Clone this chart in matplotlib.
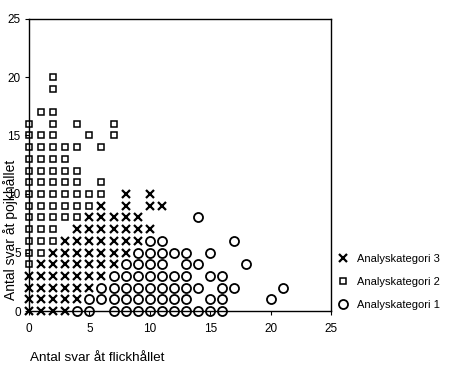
import matplotlib
matplotlib.use("Agg")
import matplotlib.pyplot as plt
from matplotlib.lines import Line2D

plt.rcParams['font.family'] = ['Liberation Sans', 'DejaVu Sans']

# Analyskategori 1 (circles)
cat1_x = [4, 5, 7, 8, 9, 10, 11, 12, 13, 14, 15, 16,
          5, 6, 7, 8, 9, 10, 11, 12, 13, 15, 16, 20,
          6, 7, 8, 9, 10, 11, 12, 13, 14, 16, 17, 21,
          7, 8, 9, 10, 11, 12, 13, 15, 16,
          8, 9, 10, 11, 13, 14, 18,
          9, 10, 11, 12, 13, 15,
          10, 11, 17,
          14]
cat1_y = [0, 0, 0, 0, 0, 0, 0, 0, 0, 0, 0, 0,
          1, 1, 1, 1, 1, 1, 1, 1, 1, 1, 1, 1,
          2, 2, 2, 2, 2, 2, 2, 2, 2, 2, 2, 2,
          3, 3, 3, 3, 3, 3, 3, 3, 3,
          4, 4, 4, 4, 4, 4, 4,
          5, 5, 5, 5, 5, 5,
          6, 6, 6,
          8]

# Analyskategori 2 (squares)
cat2_x = [0,
          0, 1,
          0, 1, 2,
          0, 1, 2,
          0, 1, 2, 3, 4,
          0, 1, 2, 3, 4, 5,
          0, 1, 2, 3, 4, 5, 6,
          0, 1, 2, 3, 4, 6,
          0, 1, 2, 3, 4,
          0, 1, 2, 3,
          0, 1, 2, 3, 4, 6,
          0, 1, 2, 5, 7,
          0, 2, 4, 7,
          1, 2,
          2,
          2]
cat2_y = [4,
          5, 5,
          6, 6, 6,
          7, 7, 7,
          8, 8, 8, 8, 8,
          9, 9, 9, 9, 9, 9,
          10, 10, 10, 10, 10, 10, 10,
          11, 11, 11, 11, 11, 11,
          12, 12, 12, 12, 12,
          13, 13, 13, 13,
          14, 14, 14, 14, 14, 14,
          15, 15, 15, 15, 15,
          16, 16, 16, 16,
          17, 17,
          19,
          20]

# Analyskategori 3 (crosses)
cat3_x = [0, 1, 2, 3,
          0, 1, 2, 3, 4,
          0, 1, 2, 3, 4, 5,
          0, 1, 2, 3, 4, 5, 6,
          1, 2, 3, 4, 5, 6, 7,
          2, 3, 4, 5, 6, 7, 8,
          3, 4, 5, 6, 7, 8, 9,
          4, 5, 6, 7, 8, 9, 10,
          5, 6, 7, 8, 9,
          6, 8, 10, 11,
          8, 10]
cat3_y = [0, 0, 0, 0,
          1, 1, 1, 1, 1,
          2, 2, 2, 2, 2, 2,
          3, 3, 3, 3, 3, 3, 3,
          4, 4, 4, 4, 4, 4, 4,
          5, 5, 5, 5, 5, 5, 5,
          6, 6, 6, 6, 6, 6, 6,
          7, 7, 7, 7, 7, 7, 7,
          8, 8, 8, 8, 8,
          9, 9, 9, 9,
          10, 10]

ticks = [0, 5, 10, 15, 20, 25]
labels = ['Analyskategori 3', 'Analyskategori 2', 'Analyskategori 1']

fig = plt.figure(figsize=(4.5, 3.71), dpi=100)
ax = fig.add_axes([29 / 450, 60 / 371, 302 / 450, 292.5 / 371])

ax.plot(cat1_x, cat1_y, 'o', ms=6.5, mfc='none', mec='black', mew=1.3, clip_on=False)
ax.plot(cat2_x, cat2_y, 's', ms=5, mfc='none', mec='black', mew=1.1, clip_on=False)
ax.plot(cat3_x, cat3_y, 'x', ms=5.5, mec='black', mew=1.6, clip_on=False)

ax.set_xlim(0, 25)
ax.set_ylim(0, 25)
ax.set_xticks(ticks)
ax.set_yticks(ticks)
ax.tick_params(direction='out', length=3, width=0.8, labelsize=8.5, pad=3)
ax.tick_params(axis='x', pad=6)
for s in ax.spines.values():
    s.set_linewidth(1.0)

# the y label runs over the tick labels in the original too
fig.text(11 / 450, (371 - 230) / 371, 'Antal svar åt pojkhållet', rotation=90,
         ha='center', va='center', fontsize=10)
fig.text(30 / 450, (371 - 358) / 371, 'Antal svar åt flickhållet',
         ha='left', va='center', fontsize=9.7)

handles = [
    Line2D([], [], ls='none', marker='x', ms=5.5, mec='black', mew=1.6),
    Line2D([], [], ls='none', marker='s', ms=5, mfc='none', mec='black', mew=1.1),
    Line2D([], [], ls='none', marker='o', ms=6.5, mfc='none', mec='black', mew=1.3),
]
fig.legend(handles, labels, loc='center left', bbox_to_anchor=(327 / 450, (371 - 282) / 371),
           frameon=False, fontsize=8, handlelength=1.0, handletextpad=0.8, labelspacing=1.2)

fig.savefig('out.png', dpi=100)
